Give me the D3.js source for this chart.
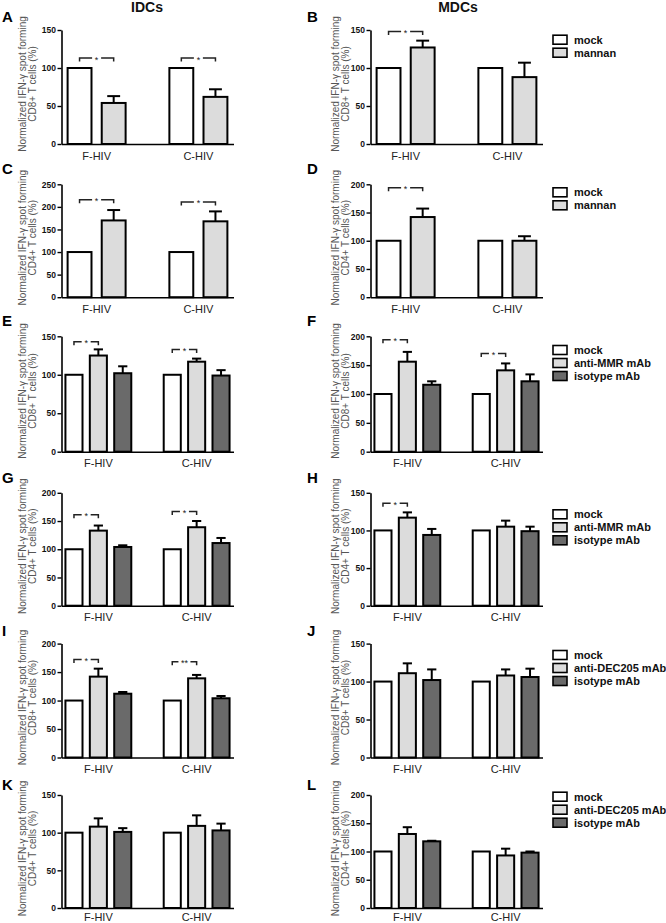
<!DOCTYPE html>
<html><head><meta charset="utf-8">
<script src="https://cdn.jsdelivr.net/npm/d3@7"></script>
<style>body{margin:0;background:#fff} svg{display:block} text{font-family:"Liberation Sans",Arial,sans-serif}</style>
</head><body><svg id="c" width="666" height="923"></svg>
<script>
// ---------- data ----------
const groups = ["F-HIV", "C-HIV"];
const seriesMannan = ["mock", "mannan"];
const seriesMMR = ["mock", "anti-MMR mAb", "isotype mAb"];
const seriesDEC = ["mock", "anti-DEC205 mAb", "isotype mAb"];
const columnTitles = ["IDCs", "MDCs"];
const yLabelLine1 = "Normalized IFN-γ spot forming";
const cd8Label = "CD8+ T cells (%)";
const cd4Label = "CD4+ T cells (%)";
const ticks150 = [0, 50, 100, 150];
const ticks200 = [0, 50, 100, 150, 200];
const ticks250 = [0, 50, 100, 150, 200, 250];

// values[group][series], errors = SEM (upward only)
const valuesA = [[100, 54], [100, 62]];
const errorsA = [[0, 9], [0, 10]];
const sigA = [{group: 0, level: 113, label: "*"}, {group: 1, level: 113, label: "*"}];

const valuesB = [[100, 127], [100, 88]];
const errorsB = [[0, 9], [0, 19]];
const sigB = [{group: 0, level: 148, label: "*"}];

const valuesC = [[100, 170], [100, 168]];
const errorsC = [[0, 23], [0, 22]];
const sigC = [{group: 0, level: 216, label: "*"}, {group: 1, level: 211, label: "*"}];

const valuesD = [[100, 142], [100, 100]];
const errorsD = [[0, 15], [0, 8]];
const sigD = [{group: 0, level: 194, label: "*"}];

const valuesE = [[100, 125, 102], [100, 117, 99]];
const errorsE = [[0, 8, 9], [0, 4, 7]];
const sigE = [{group: 0, level: 143, label: "*"}, {group: 1, level: 133, label: "*"}];

const valuesF = [[100, 156, 116], [100, 141, 122]];
const errorsF = [[0, 17, 6], [0, 12, 12]];
const sigF = [{group: 0, level: 194, label: "*"}, {group: 1, level: 170, label: "*"}];

const valuesG = [[100, 133, 104], [100, 139, 111]];
const errorsG = [[0, 9, 3], [0, 11, 9]];
const sigG = [{group: 0, level: 161, label: "*"}, {group: 1, level: 167, label: "*"}];

const valuesH = [[100, 117, 94], [100, 105, 99]];
const errorsH = [[0, 7, 8], [0, 8, 6]];
const sigH = [{group: 0, level: 136, label: "*"}];

const valuesI = [[100, 142, 112], [100, 139, 104]];
const errorsI = [[0, 14, 3], [0, 6, 4]];
const sigI = [{group: 0, level: 172, label: "*"}, {group: 1, level: 168, label: "**"}];

const valuesJ = [[100, 111, 102], [100, 108, 106]];
const errorsJ = [[0, 13, 14], [0, 8, 11]];
const sigJ = [];

const valuesK = [[100, 108, 101], [100, 109, 103]];
const errorsK = [[0, 11, 5], [0, 14, 9]];
const sigK = [];

const valuesL = [[100, 131, 118], [100, 93, 98]];
const errorsL = [[0, 12, 1], [0, 12, 2]];
const sigL = [];

const panels = [
  {letter: "A", row: 0, col: 0, series: seriesMannan, cd: cd8Label, ticks: ticks150, values: valuesA, errors: errorsA, sig: sigA, legend: false},
  {letter: "B", row: 0, col: 1, series: seriesMannan, cd: cd8Label, ticks: ticks150, values: valuesB, errors: errorsB, sig: sigB, legend: true},
  {letter: "C", row: 1, col: 0, series: seriesMannan, cd: cd4Label, ticks: ticks250, values: valuesC, errors: errorsC, sig: sigC, legend: false},
  {letter: "D", row: 1, col: 1, series: seriesMannan, cd: cd4Label, ticks: ticks200, values: valuesD, errors: errorsD, sig: sigD, legend: true},
  {letter: "E", row: 2, col: 0, series: seriesMMR, cd: cd8Label, ticks: ticks150, values: valuesE, errors: errorsE, sig: sigE, legend: false},
  {letter: "F", row: 2, col: 1, series: seriesMMR, cd: cd8Label, ticks: ticks200, values: valuesF, errors: errorsF, sig: sigF, legend: true},
  {letter: "G", row: 3, col: 0, series: seriesMMR, cd: cd4Label, ticks: ticks200, values: valuesG, errors: errorsG, sig: sigG, legend: false},
  {letter: "H", row: 3, col: 1, series: seriesMMR, cd: cd4Label, ticks: ticks150, values: valuesH, errors: errorsH, sig: sigH, legend: true},
  {letter: "I", row: 4, col: 0, series: seriesDEC, cd: cd8Label, ticks: ticks200, values: valuesI, errors: errorsI, sig: sigI, legend: false},
  {letter: "J", row: 4, col: 1, series: seriesDEC, cd: cd8Label, ticks: ticks150, values: valuesJ, errors: errorsJ, sig: sigJ, legend: true},
  {letter: "K", row: 5, col: 0, series: seriesDEC, cd: cd4Label, ticks: ticks150, values: valuesK, errors: errorsK, sig: sigK, legend: false},
  {letter: "L", row: 5, col: 1, series: seriesDEC, cd: cd4Label, ticks: ticks200, values: valuesL, errors: errorsL, sig: sigL, legend: true}
];

// ---------- layout ----------
const rowTop = [30, 184.3, 336.3, 492.8, 643.6, 795];
const rowBottom = [144, 297.2, 451.7, 605.7, 757.5, 908];
const xLabPad = [8, 8, 8, 8, 8, 5.5];
const colX = [61.5, 370.5];
const plotW = 172;
const letterX = [2, 307];
const letterY = [22, 174, 326, 483, 636, 790];
const legendY = [39.7, 192.3, 350, 514.3, 655, 796.7];
const yLabOff = [[-39, -29], [-35, -25]];
const fills = ["#ffffff", "#dcdcdc", "#6a6a6a"];

const svg = d3.select("#c");

// column titles
columnTitles.forEach((t, i) => {
  svg.append("text").attr("x", i === 0 ? 147 : 458).attr("y", 12)
    .attr("text-anchor", "middle").attr("font-size", 14).attr("font-weight", "bold")
    .attr("fill", "#111").text(t);
});

panels.forEach(p => {
  const x0pos = colX[p.col];
  const top = rowTop[p.row], bot = rowBottom[p.row];
  const n = p.series.length;
  const g = svg.append("g").attr("transform", `translate(${x0pos},0)`);

  const y = d3.scaleLinear().domain([0, d3.max(p.ticks)]).range([bot, top]);
  const x0 = d3.scaleBand().domain(groups).range([0, plotW])
    .paddingInner(n === 2 ? 0.43 : 0.33).paddingOuter(n === 2 ? 0.06 : 0.04);
  const x1 = d3.scaleBand().domain(p.series).range([0, x0.bandwidth()]).paddingInner(0.3);

  // panel letter
  svg.append("text").attr("x", letterX[p.col]).attr("y", letterY[p.row])
    .attr("font-size", 15).attr("font-weight", "bold").attr("fill", "#000").text(p.letter);

  // bars
  groups.forEach((grp, gi) => {
    p.series.forEach((s, si) => {
      const v = p.values[gi][si];
      const e = p.errors[gi][si];
      const bx = x0(grp) + x1(s);
      const bw = x1.bandwidth();
      if (e > 0) {
        const cx = bx + bw / 2;
        g.append("line").attr("x1", cx).attr("x2", cx).attr("y1", y(v)).attr("y2", y(v + e))
          .attr("stroke", "#000").attr("stroke-width", 2);
        g.append("line").attr("x1", cx - bw * 0.27).attr("x2", cx + bw * 0.27)
          .attr("y1", y(v + e)).attr("y2", y(v + e)).attr("stroke", "#000").attr("stroke-width", 2);
      }
      g.append("rect").attr("x", bx).attr("y", y(v)).attr("width", bw).attr("height", y(0) - y(v))
        .attr("fill", fills[si]).attr("stroke", "#000").attr("stroke-width", 2);
    });
  });

  // significance brackets
  p.sig.forEach(sg => {
    const grp = groups[sg.group];
    const xa = x0(grp) + x1(p.series[0]) + x1.bandwidth() / 2;
    const xb = x0(grp) + x1(p.series[1]) + x1.bandwidth() / 2;
    const yy = y(sg.level);
    const mid = (xa + xb) / 2;
    const gap = sg.label.length > 1 ? 6 : 4.5;
    g.append("path").attr("d", `M${xa},${yy + 3.5}V${yy}H${mid - gap}M${mid + gap},${yy}H${xb}V${yy + 3.5}`)
      .attr("fill", "none").attr("stroke", "#222").attr("stroke-width", 1.5);
    g.append("text").attr("x", mid).attr("y", yy + 4.5).attr("text-anchor", "middle")
      .attr("font-size", 9).attr("fill", "#222").text(sg.label);
  });

  // axes
  const ya = g.append("g").call(d3.axisLeft(y).tickValues(p.ticks).tickSize(4).tickSizeOuter(0).tickPadding(1.5));
  ya.select(".domain").attr("stroke-width", 1.6);
  ya.selectAll(".tick line").attr("stroke-width", 1.4);
  ya.selectAll("text").attr("font-size", 8.5).attr("font-weight", "bold").attr("fill", "#111")
    .attr("font-family", "Liberation Sans, Arial, sans-serif");

  const xa = g.append("g").attr("transform", `translate(0,${bot})`)
    .call(d3.axisBottom(x0).tickSize(0).tickSizeOuter(0).tickPadding(xLabPad[p.row]));
  xa.select(".domain").attr("stroke-width", 1.6);
  xa.selectAll("text").attr("font-size", 11).attr("fill", "#222")
    .attr("font-family", "Liberation Sans, Arial, sans-serif");

  // y label
  const cy = (top + bot) / 2 - 3;
  [yLabelLine1, p.cd].forEach((t, li) => {
    g.append("text").attr("transform", `translate(${yLabOff[p.col][li]},${cy}) rotate(-90)`)
      .attr("text-anchor", "middle").attr("dy", "0.35em").attr("font-size", 10)
      .attr("fill", "#555").text(t);
  });

  // legend
  if (p.legend) {
    const lg = svg.append("g");
    p.series.forEach((s, si) => {
      const cyl = legendY[p.row] + si * 13;
      lg.append("rect").attr("x", 553).attr("y", cyl - 4.5).attr("width", 14).attr("height", 9)
        .attr("fill", fills[si]).attr("stroke", "#000").attr("stroke-width", 1.6);
      lg.append("text").attr("x", 574).attr("y", cyl + 4).attr("font-size", 11)
        .attr("font-weight", "bold").attr("fill", "#111").text(s);
    });
  }
});
</script>
</body></html>
